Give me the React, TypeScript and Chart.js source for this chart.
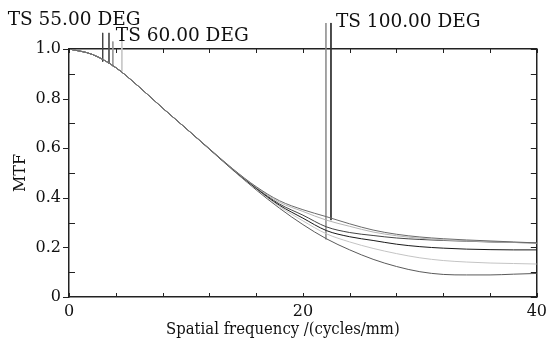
import React, { useEffect, useRef } from 'react';
import { Chart, registerables } from 'chart.js';
Chart.register(...registerables);

const freq = [0, 2, 4, 6, 8, 10, 12, 14, 16, 18, 20, 22, 24, 26, 28, 30, 32, 34, 36, 38, 40];
const mtfTopGray = [1.0, 0.978, 0.925, 0.847, 0.762, 0.68, 0.598, 0.517, 0.445, 0.388, 0.352, 0.324, 0.295, 0.27, 0.253, 0.242, 0.235, 0.23, 0.226, 0.222, 0.218];
const mtfTopLight = [1.0, 0.978, 0.925, 0.847, 0.762, 0.68, 0.598, 0.516, 0.443, 0.382, 0.345, 0.31, 0.285, 0.262, 0.247, 0.237, 0.23, 0.226, 0.223, 0.22, 0.216];
const mtfDark = [1.0, 0.978, 0.925, 0.847, 0.762, 0.68, 0.597, 0.515, 0.44, 0.375, 0.33, 0.283, 0.26, 0.248, 0.238, 0.232, 0.228, 0.225, 0.222, 0.22, 0.218];
const mtfBlack = [1.0, 0.978, 0.925, 0.847, 0.762, 0.68, 0.597, 0.514, 0.438, 0.37, 0.318, 0.268, 0.243, 0.228, 0.213, 0.203, 0.197, 0.193, 0.191, 0.19, 0.19];
const mtfLight = [1.0, 0.978, 0.925, 0.847, 0.762, 0.68, 0.596, 0.513, 0.436, 0.365, 0.307, 0.255, 0.222, 0.196, 0.175, 0.158, 0.147, 0.141, 0.137, 0.135, 0.133];
const mtfLow = [1.0, 0.978, 0.925, 0.847, 0.762, 0.68, 0.596, 0.512, 0.432, 0.358, 0.292, 0.235, 0.19, 0.152, 0.123, 0.102, 0.091, 0.089, 0.089, 0.092, 0.095];

// field markers: frequency, top MTF, bottom MTF
const ts55X = [2.88, 3.42];
const ts55Top = [1.065, 1.065];
const ts55Bottom = [0.949, 0.941];
const ts60X = [3.75, 4.52];
const ts60Top = [1.03, 1.035];
const ts60Bottom = [0.929, 0.909];
const ts100X = [21.97, 22.4];
const ts100Top = [1.105, 1.105];
const ts100Bottom = [0.232, 0.31];

const xMinorTicks = [0, 4, 8, 12, 16, 20, 24, 28, 32, 36, 40];
const yMinorTicks = [0, 0.1, 0.2, 0.3, 0.4, 0.5, 0.6, 0.7, 0.8, 0.9, 1.0];
const labelTexts = ['TS 55.00 DEG', 'TS 60.00 DEG', 'TS 100.00 DEG'];
const xTitle = 'Spatial frequency /(cycles/mm)';

const FONT = '"DejaVu Serif", serif';
const FONT_C = '"DejaVu Serif Condensed", "DejaVu Serif", serif';

const toPts = (ys: number[]) => freq.map((x, i) => ({ x, y: ys[i] }));
const seg = (x: number, top: number, bottom: number) => [{ x, y: top }, { x, y: bottom }];

const decoPlugin = {
  id: 'deco',
  afterDraw(chart: any) {
    const { ctx, chartArea: a, scales } = chart;
    const xs = scales.x, ys = scales.y;
    ctx.save();
    ctx.strokeStyle = '#222';
    ctx.lineWidth = 1;
    ctx.beginPath();
    for (const v of xMinorTicks) {
      const px = Math.round(xs.getPixelForValue(v)) + 0.5;
      ctx.moveTo(px, a.bottom); ctx.lineTo(px, a.bottom - 4);
      ctx.moveTo(px, a.top); ctx.lineTo(px, a.top + 4);
    }
    yMinorTicks.forEach((v, i) => {
      const py = Math.round(ys.getPixelForValue(v)) + 0.5;
      ctx.moveTo(a.right, py); ctx.lineTo(a.right - 6, py);
      if (i % 2 === 1) { ctx.moveTo(a.left, py); ctx.lineTo(a.left + 6, py); }
      else { ctx.moveTo(a.left, py); ctx.lineTo(a.left - 6, py); }
    });
    ctx.stroke();
    ctx.fillStyle = '#111';
    ctx.font = '18.5px ' + FONT;
    ctx.textBaseline = 'middle';
    ctx.textAlign = 'left';
    ctx.fillText(labelTexts[0], xs.getPixelForValue(ts55X[0]) - 95, ys.getPixelForValue(ts55Top[0]) - 13);
    ctx.fillText(labelTexts[1], xs.getPixelForValue(ts60X[0]) + 3, ys.getPixelForValue(ts60Top[0]) - 5);
    ctx.fillText(labelTexts[2], xs.getPixelForValue(ts100X[1]) + 5, ys.getPixelForValue(ts100Top[1]) - 1);
    // x-axis title (offset left of centre as in the original)
    ctx.font = '16.5px ' + FONT_C;
    ctx.textAlign = 'center';
    ctx.fillText(xTitle, (a.left + a.right) / 2 - 20, a.bottom + 33);
    ctx.restore();
  },
};

export default function App() {
  const ref = useRef<HTMLCanvasElement>(null);
  useEffect(() => {
    if (!ref.current) return;
    const curve = (data: number[], color: string, w = 1) => ({
      data: toPts(data), borderColor: color, borderWidth: w, pointRadius: 0,
      cubicInterpolationMode: 'monotone' as const, fill: false,
    });
    const marker = (x: number, t: number, b: number, color: string, w = 1) => ({
      data: seg(x, t, b), borderColor: color, borderWidth: w, pointRadius: 0, clip: false as any, fill: false,
    });
    const chart = new Chart(ref.current, {
      type: 'line',
      data: {
        datasets: [
          curve(mtfTopGray, '#6a6a6a'),
          curve(mtfTopLight, '#b5b5b5'),
          curve(mtfDark, '#444'),
          curve(mtfBlack, '#1a1a1a'),
          curve(mtfLight, '#c4c4c4'),
          curve(mtfLow, '#5a5a5a'),
          marker(ts55X[0], ts55Top[0], ts55Bottom[0], '#444'),
          marker(ts55X[1], ts55Top[1], ts55Bottom[1], '#555'),
          marker(ts60X[0], ts60Top[0], ts60Bottom[0], '#999'),
          marker(ts60X[1], ts60Top[1], ts60Bottom[1], '#c8c8c8'),
          marker(ts100X[0], ts100Top[0], ts100Bottom[0], '#888', 1.5),
          marker(ts100X[1], ts100Top[1], ts100Bottom[1], '#333'),
        ],
      },
      options: {
        animation: false,
        responsive: false,
        maintainAspectRatio: false,
        layout: { padding: { top: 49, right: 11, left: 0, bottom: 0 } },
        plugins: { legend: { display: false }, tooltip: { enabled: false } },
        scales: {
          x: {
            type: 'linear', position: 'bottom', min: 0, max: 40,
            grid: { display: false, drawTicks: false },
            border: { display: true, color: '#222', width: 1.5 },
            ticks: { stepSize: 20, color: '#111', font: { family: FONT, size: 16 }, padding: 5, maxRotation: 0 },
            title: { display: false, text: xTitle },
            afterFit: (s: any) => { s.height = 43; },
          },
          x2: {
            type: 'linear', position: 'top', min: 0, max: 40,
            grid: { display: false, drawTicks: false },
            border: { display: true, color: '#222', width: 1.5 },
            ticks: { display: false },
            afterFit: (s: any) => { s.height = 0; },
          },
          y: {
            type: 'linear', position: 'left', min: 0, max: 1,
            grid: { display: false, drawTicks: false },
            border: { display: true, color: '#222', width: 1.5 },
            ticks: {
              stepSize: 0.2, color: '#111', font: { family: FONT, size: 16 }, padding: 8,
              callback: (v: any) => (v === 0 ? '0' : Number(v).toFixed(1)),
            },
            title: { display: true, text: 'MTF', color: '#111', font: { family: FONT, size: 16 }, padding: { top: 11, bottom: 0 } },
            afterFit: (s: any) => { s.width = 69; },
          },
          y2: {
            type: 'linear', position: 'right', min: 0, max: 1,
            grid: { display: false, drawTicks: false },
            border: { display: true, color: '#222', width: 1.5 },
            ticks: { display: false },
            afterFit: (s: any) => { s.width = 0; },
          },
        },
      },
      plugins: [decoPlugin],
    });
    return () => chart.destroy();
  }, []);
  return (
    <div style={{ position: 'fixed', left: 0, top: 0, width: 552, height: 340, background: '#fff' }}>
      <canvas ref={ref} width={552} height={340} style={{ width: 552, height: 340 }} />
    </div>
  );
}
